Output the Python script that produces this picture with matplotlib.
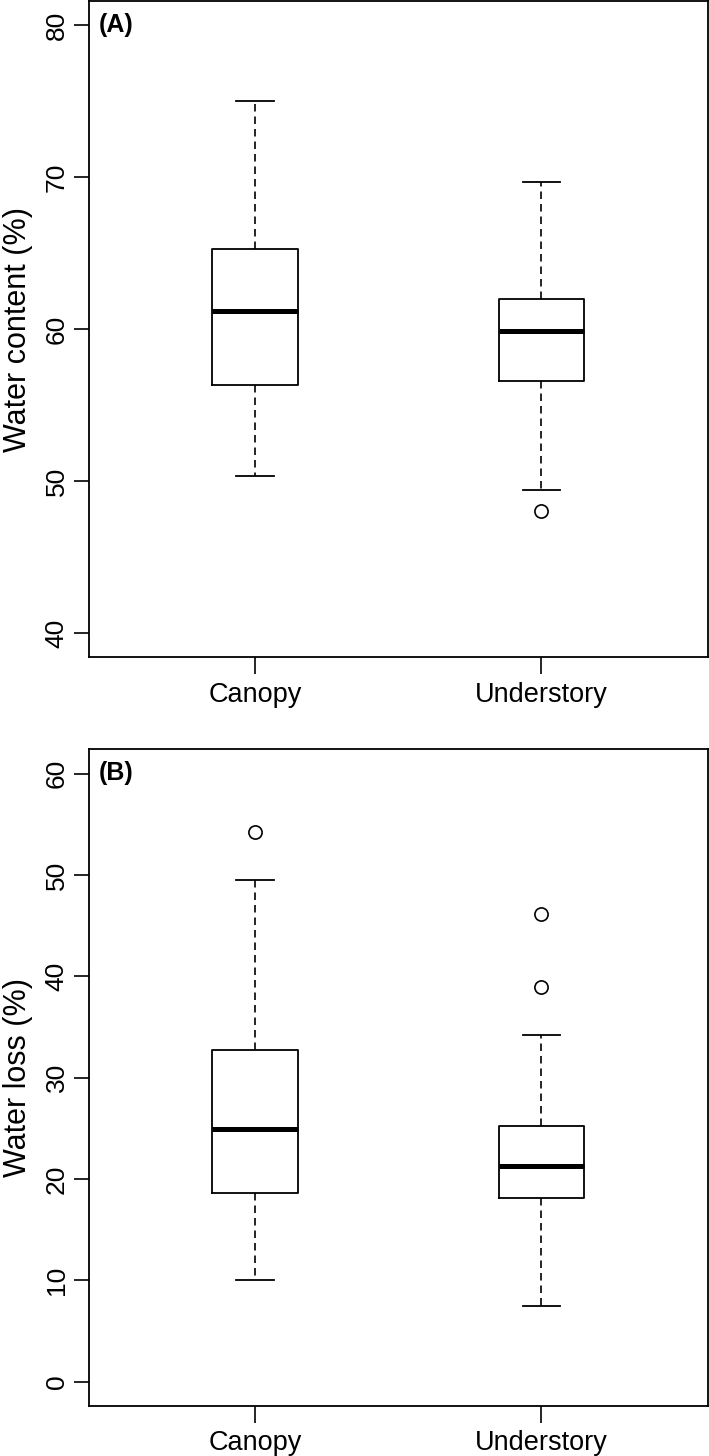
import matplotlib
matplotlib.use("Agg")
import matplotlib.pyplot as plt

plt.rcParams['font.family'] = ['Liberation Sans', 'DejaVu Sans']

groups = ["Canopy", "Understory"]

# panel A: water content (%)
wc_whislo = [50.3, 49.4]
wc_q1 = [56.3, 56.6]
wc_med = [61.2, 59.9]
wc_q3 = [65.3, 62.0]
wc_whishi = [75.0, 69.7]
wc_fliers = [[], [48.0]]

# panel B: water loss (%)
wl_whislo = [10.0, 7.5]
wl_q1 = [18.6, 18.1]
wl_med = [24.9, 21.3]
wl_q3 = [32.7, 25.2]
wl_whishi = [49.5, 34.2]
wl_fliers = [[54.2], [46.1, 38.9]]


def make_stats(lo, q1, med, q3, hi, fl):
    out = []
    for i, g in enumerate(groups):
        out.append(dict(label=g, whislo=lo[i], q1=q1[i], med=med[i],
                        q3=q3[i], whishi=hi[i], fliers=fl[i]))
    return out


def draw(ax, stats, ylim, ticks, ylabel, tag):
    ax.bxp(stats, positions=[1, 2], widths=0.3, capwidths=0.13,
           showfliers=True,
           boxprops=dict(color='black', linewidth=1.3),
           medianprops=dict(color='black', linewidth=3.6, solid_capstyle='butt'),
           whiskerprops=dict(color='black', linewidth=1.2, linestyle=(0, (4.5, 3))),
           capprops=dict(color='black', linewidth=1.3),
           flierprops=dict(marker='o', markerfacecolor='none',
                           markeredgecolor='black', markersize=9.5,
                           markeredgewidth=1.2))
    span = ylim[1] - ylim[0]
    ax.set_ylim(ylim[0] - 0.04 * span, ylim[1] + 0.04 * span)
    ax.set_xlim(0.42, 2.58)
    ax.set_yticks(ticks)
    ax.set_yticklabels([str(t) for t in ticks], rotation=90, va='center')
    ax.set_xticks([1, 2])
    ax.set_xticklabels(groups)
    ax.tick_params(axis='x', length=12, width=1.2, labelsize=19.5, pad=5.5)
    ax.tick_params(axis='y', length=11, width=1.2, labelsize=19, pad=3.5)
    ax.set_ylabel(ylabel, fontsize=22)
    ax.yaxis.set_label_coords(-0.0906, 0.5)
    for s in ax.spines.values():
        s.set_linewidth(1.3)
    ax.text(0.015, 0.982, tag, transform=ax.transAxes, fontsize=18,
            fontweight='bold', va='top', ha='left')


fig = plt.figure(figsize=(7.09, 14.56), dpi=100)
axA = fig.add_axes([0.1255, 0.5486, 0.8725, 0.4507])
axB = fig.add_axes([0.1255, 0.0343, 0.8725, 0.4511])

draw(axA, make_stats(wc_whislo, wc_q1, wc_med, wc_q3, wc_whishi, wc_fliers),
     (40, 80), [40, 50, 60, 70, 80], "Water content (%)", "(A)")
draw(axB, make_stats(wl_whislo, wl_q1, wl_med, wl_q3, wl_whishi, wl_fliers),
     (0, 60), [0, 10, 20, 30, 40, 50, 60], "Water loss (%)", "(B)")

fig.savefig("out.png", dpi=100)
